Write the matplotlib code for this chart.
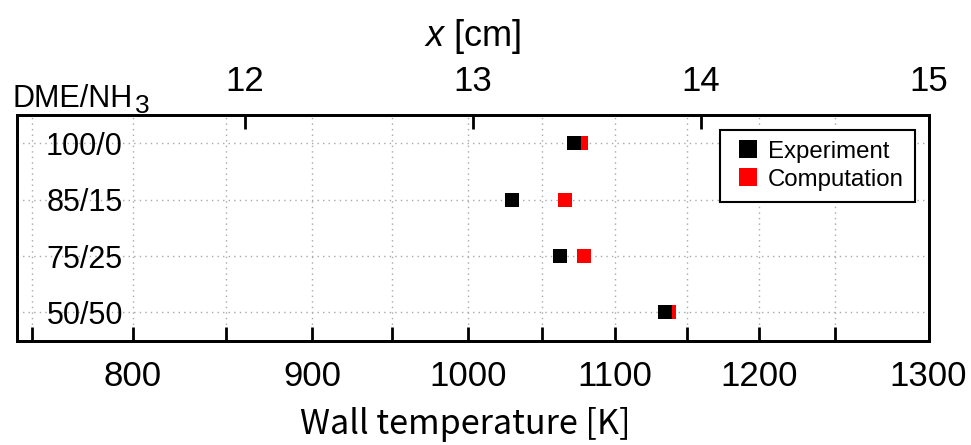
import numpy as np
import matplotlib
matplotlib.use("Agg")
import matplotlib.pyplot as plt
from matplotlib.ticker import FixedLocator, NullFormatter
from matplotlib.transforms import offset_copy

# Wall temperature profile along the channel (x in cm, T in K)
x_profile = [11.0, 11.068, 11.511, 11.919, 12.296, 12.647, 12.980,
             13.305, 13.625, 13.941, 14.257, 14.590, 15.0]
T_profile = [742, 750, 800, 850, 900, 950, 1000,
             1050, 1100, 1150, 1200, 1250, 1300]

blends = ["100/0", "85/15", "75/25", "50/50"]
T_experiment = [1072, 1030, 1062, 1135]
T_computation = [1077, 1066, 1079, 1137.5]

T_major = [800, 900, 1000, 1100, 1200, 1300]
T_minor = [750, 850, 950, 1050, 1150, 1250]
x_ticks = [12, 13, 14, 15]


def _interp(v, xp, fp):
    v = np.asarray(v, dtype=float)
    xp = np.asarray(xp, dtype=float)
    fp = np.asarray(fp, dtype=float)
    out = np.interp(v, xp, fp)
    lo = v < xp[0]
    hi = v > xp[-1]
    out = np.where(lo, fp[0] + (v - xp[0]) * (fp[1] - fp[0]) / (xp[1] - xp[0]), out)
    out = np.where(hi, fp[-1] + (v - xp[-1]) * (fp[-1] - fp[-2]) / (xp[-1] - xp[-2]), out)
    return out


def temp_to_x(T):
    return _interp(T, T_profile, x_profile)


def x_to_temp(x):
    return _interp(x, x_profile, T_profile)


plt.rcParams["font.family"] = ["Liberation Sans", "DejaVu Sans"]
plt.rcParams["mathtext.fontset"] = "custom"
plt.rcParams["mathtext.rm"] = "Liberation Sans"
plt.rcParams["mathtext.it"] = "Liberation Sans:italic"

fig = plt.figure(figsize=(9.71, 4.45), dpi=100)
ax = fig.add_axes([16.5 / 971, 1 - 340.7 / 445, 912 / 971, 225.7 / 445])

# bottom axis: wall temperature, placed according to the profile
ax.set_xscale("function", functions=(temp_to_x, x_to_temp))
ax.set_xlim(T_profile[0], T_profile[-1])
ax.xaxis.set_major_locator(FixedLocator(T_major))
ax.xaxis.set_minor_locator(FixedLocator(T_minor))
ax.xaxis.set_minor_formatter(NullFormatter())
ax.tick_params(axis="x", which="both", direction="in", length=10, width=2,
               labelsize=25, pad=14)
ax.set_xlabel("Wall temperature [K]", fontsize=24.6,
              family=["Noto Sans CJK JP", "DejaVu Sans"], labelpad=10)
ax.xaxis.label.set_x(0.492)

ax.set_ylim(3.5, -0.5)
ax.set_yticks(range(len(blends)), blends)
ax.tick_params(axis="y", length=0, labelsize=22, pad=-106.5 * 0.72)

ax.grid(axis="x", which="both", linestyle=(0, (1, 3)), color="#a8a8a8", lw=1)
ax.grid(axis="y", which="major", linestyle=(0, (1, 3)), color="#a8a8a8", lw=1)
ax.set_axisbelow(True)

comp, = ax.plot(T_computation, range(len(blends)), "s", color="#ff0000",
                ms=10, mew=0, ls="none", label="Computation", zorder=3)
exp, = ax.plot(T_experiment, range(len(blends)), "s", color="black",
               ms=10, mew=0, ls="none", label="Experiment", zorder=4)

leg = ax.legend(handles=[exp, comp], loc="upper right",
                bbox_to_anchor=(0.985, 0.934), borderaxespad=0,
                fontsize=17.3, fancybox=False, edgecolor="black",
                framealpha=1, markerscale=1.3, handlelength=1.45,
                handletextpad=0.11, borderpad=0.45, labelspacing=0.25)
leg.get_frame().set_linewidth(1.5)

for s in ax.spines.values():
    s.set_linewidth(2)

# top axis: position along the channel
tw = ax.twiny()
tw.set_xlim(x_profile[0], x_profile[-1])
tw.set_xticks(x_ticks)
tw.tick_params(axis="x", direction="in", length=10, width=2, labelsize=25, pad=12)
tw.set_xlabel("$x$ [cm]", fontsize=26, labelpad=14)
for s in tw.spines.values():
    s.set_linewidth(2)

# row-axis title with a lowered subscript
title = fig.text(12 / 971, 1 - 106.7 / 445, "DME/NH", fontsize=22, va="baseline")
fig.canvas.draw()
bb = title.get_window_extent(fig.canvas.get_renderer())
fig.text(bb.x1 / fig.bbox.width, 0, "3", fontsize=19, va="baseline",
         transform=offset_copy(fig.transFigure, fig=fig, x=3, y=(1 - 113 / 445) * 445,
                               units="dots"))

fig.savefig("out.png", dpi=100)
